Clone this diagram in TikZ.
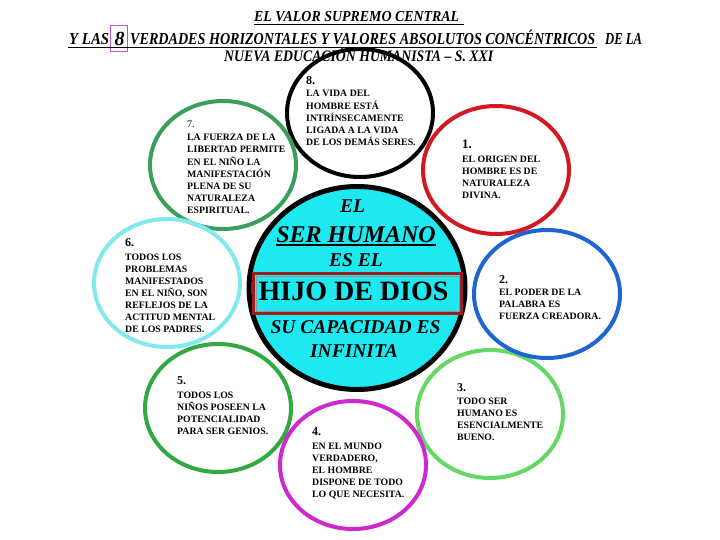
\documentclass[tikz,border=0pt]{standalone}
\usepackage{fontspec}
\setmainfont{Liberation Serif}
\usepackage{graphicx}
\usetikzlibrary{shapes.geometric}
\definecolor{cfill}{RGB}{30,232,240}
\definecolor{cseven}{RGB}{58,158,92}
\definecolor{csix}{RGB}{130,232,240}
\definecolor{cfive}{RGB}{48,170,64}
\definecolor{cfour}{RGB}{208,40,208}
\definecolor{cthree}{RGB}{100,216,100}
\definecolor{ctwo}{RGB}{30,100,210}
\definecolor{cone}{RGB}{210,24,32}
\definecolor{boxred}{RGB}{160,28,28}
\definecolor{boxgray}{RGB}{150,150,150}
\definecolor{boxmag}{RGB}{200,80,200}
\newcommand\fitt[3]{\resizebox{#1}{#2}{\raisebox{0pt}[\fontcharht\font`X][0pt]{#3}}}
\begin{document}
\begin{tikzpicture}[x=1pt,y=-1pt,
  circ/.style={ellipse, minimum width=146pt, minimum height=128pt, line width=4pt, inner sep=0},
  small/.style={anchor=base west, inner sep=0, font=\bfseries\fontsize{9.8}{12}\selectfont},
  num/.style={anchor=base west, inner sep=0, font=\bfseries\fontsize{12}{12}\selectfont},
  ttl/.style={anchor=base west, inner sep=0, font=\bfseries\itshape\fontsize{14}{14}\selectfont},
  ctr/.style={anchor=base, inner sep=0, font=\bfseries\itshape\fontsize{19.5}{20}\selectfont},
  uline/.style={line width=1.4pt}
]
\useasboundingbox (0,0) rectangle (720,540);
\fill[white] (0,0) rectangle (720,540);

% outer circles
\node[circ, draw=black] (c8) at (360,113) {};
\node[circ, draw=cseven] (c7) at (223,165) {};
\node[circ, draw=csix] (c6) at (167,283) {};
\node[circ, draw=cfive] (c5) at (218,408) {};
\node[circ, draw=cthree] (c3) at (490,414) {};
\node[circ, draw=ctwo] (c2) at (547,294) {};
\node[circ, draw=cone] (c1) at (496,170) {};
\node[circ, draw=cfour] (c4) at (353,465) {};

% central circle
\node[ellipse, minimum width=216pt, minimum height=203pt, draw=black, fill=cfill, line width=5pt, inner sep=0] (core) at (357,288) {};
\node[draw=boxred, fill=cfill, line width=3pt, minimum width=208pt, minimum height=40pt, inner sep=0] (hbox) at (357.5,293.5) {};
\node[draw=boxgray, line width=1pt, minimum width=203pt, minimum height=35pt, inner sep=0] (hboxin) at (357.5,293.5) {};

\node[ctr] (el) at (352.5,213) {EL};
\node[ctr, font=\bfseries\itshape\fontsize{24}{24}\selectfont] (ser) at (356,242) {SER HUMANO};
\draw[uline] (ser.base west) ++(0,3) coordinate (sera) (ser.base east) ++(0,3) coordinate (serb);
\draw[uline] (sera) -- (serb);
\node[ctr] (esel) at (356,266) {ES EL};
\node[anchor=base, inner sep=0, font=\bfseries\fontsize{28}{28}\selectfont] (hijo) at (353.5,300) {HIJO DE DIOS};
\node[ctr] (sucap) at (355.5,333) {SU CAPACIDAD ES};
\node[ctr] (inf) at (354,357) {INFINITA};

% circle texts
\node[num] (n8) at (306,85) {8.};
\node[small] (t8) at (306,97) {\begin{tabular}[t]{@{}l@{}}LA VIDA DEL\\HOMBRE ESTÁ\\INTRÍNSECAMENTE\\LIGADA A LA VIDA\\DE LOS DEMÁS SERES.\end{tabular}};

\node[num, font=\fontsize{10}{12}\selectfont] (n7) at (187,128) {7.};
\node[small] (t7) at (187,141) {\begin{tabular}[t]{@{}l@{}}LA FUERZA DE LA\\LIBERTAD PERMITE\\EN EL NIÑO LA\\MANIFESTACIÓN\\PLENA DE SU\\NATURALEZA\\ESPIRITUAL.\end{tabular}};

\node[num] (n6) at (125,247) {6.};
\node[small] (t6) at (125,260) {\begin{tabular}[t]{@{}l@{}}TODOS LOS\\PROBLEMAS\\MANIFESTADOS\\EN EL  NIÑO, SON\\REFLEJOS DE LA\\ACTITUD MENTAL\\DE LOS PADRES.\end{tabular}};

\node[num, font=\bfseries\fontsize{13}{13}\selectfont] (n1) at (462,149) {1.};
\node[small] (t1) at (462,163) {\begin{tabular}[t]{@{}l@{}}EL ORIGEN DEL\\HOMBRE ES DE\\NATURALEZA\\DIVINA.\end{tabular}};

\node[num] (n2) at (499,283) {2.};
\node[small] (t2) at (499,295) {\begin{tabular}[t]{@{}l@{}}EL PODER DE LA\\PALABRA ES\\FUERZA CREADORA.\end{tabular}};

\node[num] (n3) at (457,391) {3.};
\node[small] (t3) at (457,404) {\begin{tabular}[t]{@{}l@{}}TODO SER\\HUMANO ES\\ESENCIALMENTE\\BUENO.\end{tabular}};

\node[num] (n4) at (312,435) {4.};
\node[small] (t4) at (312,449) {\begin{tabular}[t]{@{}l@{}}EN EL MUNDO\\VERDADERO,\\EL HOMBRE\\DISPONE DE TODO\\LO QUE NECESITA.\end{tabular}};

\node[num] (n5) at (177,384) {5.};
\node[small] (t5) at (177,398) {\begin{tabular}[t]{@{}l@{}}TODOS LOS\\NIÑOS POSEEN LA\\POTENCIALIDAD\\PARA SER GENIOS.\end{tabular}};

% title
\node[ttl] (ti1) at (254,21.5) {\fitt{205pt}{10pt}{EL VALOR SUPREMO CENTRAL}};
\draw[uline] (254,24.5) -- (464,24.5);
\node[ttl] (ti2a) at (69,44.5) {\fitt{40pt}{11pt}{Y LAS}};
\node[draw=boxmag, line width=0.8pt, minimum width=17pt, minimum height=26pt, inner sep=0] (eightbox) at (119,38.5) {};
\node[anchor=base, inner sep=0, font=\bfseries\itshape\fontsize{20}{20}\selectfont] (eight) at (119.5,46) {8};
\node[ttl] (ti2b) at (130,44.5) {\fitt{465pt}{11pt}{VERDADES HORIZONTALES Y VALORES ABSOLUTOS CONCÉNTRICOS}};
\node[ttl] (ti2c) at (605,44.5) {\fitt{37pt}{11pt}{DE LA}};
\draw[uline] (68,47.5) -- (597,47.5);
\node[ttl] (ti3) at (224,62) {\fitt{269pt}{10.5pt}{NUEVA EDUCACIÓN HUMANISTA – S. XXI}};
\end{tikzpicture}
\end{document}
